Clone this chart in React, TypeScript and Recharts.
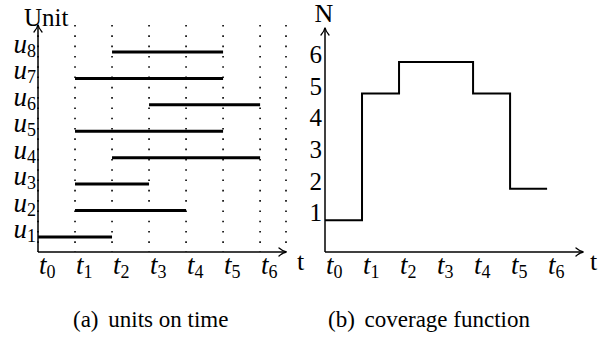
import React from 'react';
import { LineChart, Line, XAxis, YAxis, CartesianGrid } from 'recharts';

// time ticks t0..t6 and the units u1..u8
const timeTicks = [0, 1, 2, 3, 4, 5, 6];
const units = [1, 2, 3, 4, 5, 6, 7, 8];
// on-time interval of each unit (index i -> u_{i+1})
const unitStart = [0, 1, 1, 2, 1, 3, 1, 2];
const unitEnd = [2, 4, 3, 6, 5, 6, 5, 5];
// coverage function N(t), step after each t_i
const coverageTime = [0, 1, 2, 3, 4, 5, 6];
const coverageCount = [1, 5, 6, 6, 5, 2, 2];
const countTicks = [1, 2, 3, 4, 5, 6];

const SERIF = "'Liberation Serif', 'Times New Roman', 'DejaVu Serif', serif";
const serifStyle = { fontFamily: SERIF };

const segments = units.map((u, i) => ({
  unit: u,
  data: [
    { t: unitStart[i], u },
    { t: unitEnd[i], u }
  ]
}));
const coverage = coverageTime.map((t, i) => ({ t, n: coverageCount[i] }));

const ArrowDefs = ({ id }: { id: string }) => <defs>
    <marker id={id} viewBox="-10 -6 12 12" refX={0} refY={0} markerWidth={12} markerHeight={12} markerUnits="userSpaceOnUse" orient="auto-start-reverse" overflow="visible">
      <path d="M -7 -4 Q -3 -0.6 0.5 0 Q -3 0.6 -7 4" fill="none" stroke="#000" strokeWidth={1.3} strokeLinecap="round" />
    </marker>
  </defs>;

const SubTick = ({ x, y, payload, letter, anchor, dx, dy }: any) => <text x={x + dx} y={y + dy} textAnchor={anchor} style={serifStyle} fill="#000">
    <tspan fontStyle="italic" fontSize={27}>{letter}</tspan>
    <tspan fontSize={18} dy={4}>{payload.value}</tspan>
  </text>;

const NumTick = ({ x, y, payload }: any) => <text x={x} y={y + 1} textAnchor="end" style={serifStyle} fontSize={25} fill="#000">
    {payload.value}
  </text>;

const axisStyle = { stroke: '#000', strokeWidth: 1.5 };

export default function App() {
  return <div style={{ position: 'absolute', left: 0, top: 0, width: 598, height: 339, background: '#fff', fontFamily: SERIF }}>
      <div style={{ position: 'absolute', left: 0, top: 0 }}>
        <LineChart width={300} height={339} margin={{ top: 25, right: 14, bottom: 57, left: 0 }}>
          <ArrowDefs id="arrowA" />
          <CartesianGrid horizontal={false} stroke="#000" strokeWidth={1.6} strokeDasharray="1.6 8.7" />
          <XAxis type="number" dataKey="t" domain={[0, 6.7]} ticks={timeTicks} allowDataOverflow height={30} tickSize={0} tickMargin={0} tickLine={false} axisLine={{ ...axisStyle, markerEnd: 'url(#arrowA)' }} tick={<SubTick letter="t" anchor="start" dx={1} dy={22} />} />
          <YAxis type="number" dataKey="u" domain={[0.43, 9.02]} ticks={units} allowDataOverflow width={38} tickSize={0} tickMargin={2} tickLine={false} axisLine={{ ...axisStyle, markerStart: 'url(#arrowA)' }} tick={<SubTick letter="u" anchor="end" dx={0} dy={1} />} />
          {segments.map(s => <Line key={s.unit} data={s.data} dataKey="u" stroke="#000" strokeWidth={3} dot={false} isAnimationActive={false} />)}
        </LineChart>
      </div>
      <div style={{ position: 'absolute', left: 300, top: 0 }}>
        <LineChart width={298} height={339} data={coverage} margin={{ top: 28, right: 15, bottom: 57, left: 0 }}>
          <ArrowDefs id="arrowB" />
          <XAxis type="number" dataKey="t" domain={[0, 6.97]} ticks={timeTicks} allowDataOverflow height={30} tickSize={0} tickMargin={0} tickLine={false} axisLine={{ ...axisStyle, markerEnd: 'url(#arrowB)' }} tick={<SubTick letter="t" anchor="start" dx={1} dy={22} />} />
          <YAxis type="number" domain={[0, 7.07]} ticks={countTicks} allowDataOverflow width={25} tickSize={0} tickMargin={3} tickLine={false} axisLine={{ ...axisStyle, markerStart: 'url(#arrowB)' }} tick={<NumTick />} />
          <Line type="stepAfter" dataKey="n" stroke="#000" strokeWidth={2} dot={false} isAnimationActive={false} />
        </LineChart>
      </div>
      <svg width={598} height={339} style={{ position: 'absolute', left: 0, top: 0, pointerEvents: 'none', fontFamily: SERIF }} fill="#000">
        <text x={24} y={26} fontSize={25}>Unit</text>
        <text x={324} y={22} fontSize={26} textAnchor="middle">N</text>
        <text x={297} y={270} fontSize={26}>t</text>
        <text x={590} y={270} fontSize={26}>t</text>
        <text x={73} y={327} fontSize={23}>(a)<tspan dx={4}> units on time</tspan></text>
        <text x={328} y={327} fontSize={23}>(b)<tspan dx={4}> coverage function</tspan></text>
      </svg>
    </div>;
}
